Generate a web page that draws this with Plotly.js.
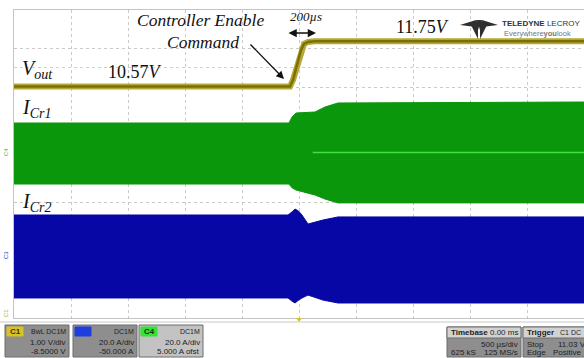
<!DOCTYPE html>
<html><head><meta charset="utf-8">
<script src="https://cdn.plot.ly/plotly-3.0.1.min.js"></script>
<style>html,body{margin:0;padding:0;background:#fff}#c{width:584px;height:358px}</style>
</head><body><div id="c"></div>
<script>
// ---- data ----
// time in ms, 500 us/div, trigger at centre
const tV   = [-2.5, -0.079, -0.053, -0.018, 0.018, 0.044, 0.079, 0.14, 2.5];
const vOut = [10.57, 10.57, 10.74, 11.13, 11.52, 11.68, 11.73, 11.75, 11.75];

const tC4    = [-2.5, -0.088, -0.061, -0.026, 0.140, 0.228, 0.342, 2.5];
const iCr1Hi = [15.3, 15.3, 18.4, 20.5, 21.0, 23.6, 25.7, 26.2];
const iCr1Lo = [-16.4, -16.4, -18.4, -19.5, -22.1, -24.2, -26.2, -26.2];
const tC4Mid = [0.12, 2.5];
const iCr1Mid = [0, 0];

const tC3    = [-2.5, -0.096, -0.06, -0.035, -0.005, 0.026, 0.079, 0.211, 0.342, 2.5];
const iCr2Hi = [21.3, 21.3, 23.0, 24.4, 23.4, 21.3, 16.6, 18.7, 20.3, 20.3];
const iCr2Lo = [-21.8, -21.8, -23.5, -24.4, -23.0, -21.8, -20.3, -22.9, -24.4, -24.4];

// ---- channel scaling (screen divisions) ----
const vCentre = 8.56, vPerDiv = 1.0;
const aPerDiv = 20.0, c4Pos = 0.30, c3Pos = -2.39;
const d1 = v => (v - vCentre) / vPerDiv;
const d4 = i => i / aPerDiv + c4Pos;
const d3 = i => i / aPerDiv + c3Pos;

// pixel helpers for decorations
const L = 14, T = 10, W = 570, H = 308;
const X = px => (px - L) / W;
const Y = py => (T + H - py) / H;

const green = '#0a970c', blue = '#0707a6';
const traces = [
  {x: tC4, y: iCr1Hi.map(d4), mode: 'lines', line: {width: 1, color: green}, hoverinfo: 'skip'},
  {x: tC4, y: iCr1Lo.map(d4), mode: 'lines', line: {width: 1, color: green}, fill: 'tonexty', fillcolor: green, hoverinfo: 'skip'},
  {x: tC4Mid, y: iCr1Mid.map(d4), mode: 'lines', line: {width: 1.5, color: '#3fe23f'}, hoverinfo: 'skip'},
  {x: tC3, y: iCr2Hi.map(d3), mode: 'lines', line: {width: 1, color: blue}, hoverinfo: 'skip'},
  {x: tC3, y: iCr2Lo.map(d3), mode: 'lines', line: {width: 1, color: blue}, fill: 'tonexty', fillcolor: blue, hoverinfo: 'skip'},
  {x: tV, y: vOut.map(d1), mode: 'lines', line: {width: 6, color: '#b3a83a'}, hoverinfo: 'skip'},
  {x: tV, y: vOut.map(d1), mode: 'lines', line: {width: 2.5, color: '#7d7000'}, hoverinfo: 'skip'}
];

const serif = 'Liberation Serif, Times New Roman, serif';
const sans = 'Liberation Sans, Arial, sans-serif';
const ann = [];
function txt(px, py, text, size, opts) {
  ann.push(Object.assign({xref: 'paper', yref: 'paper', x: X(px), y: Y(py), text: text, showarrow: false,
    xanchor: 'left', yanchor: 'middle', font: {family: sans, size: size, color: '#222'}}, opts || {}));
}
const ital = (s) => ({family: serif, size: s, color: '#111', style: 'italic'});
const rom = (s) => ({family: serif, size: s, color: '#111'});
// labels on the traces
txt(135, 20, 'Controller Enable', 17.5, {font: ital(17.5)});
txt(165, 42, 'Command', 17.5, {font: ital(17.5)});
txt(288, 17, '200µs', 13, {font: ital(13)});
txt(394, 27, '11.75<i>V</i>', 18, {font: rom(18)});
txt(106, 72, '10.57<i>V</i>', 18, {font: rom(18)});
txt(20, 70, 'V<sub>out</sub>', 20, {font: ital(20)});
txt(20, 109, 'I<sub>Cr1</sub>', 20, {font: ital(20)});
txt(20, 202, 'I<sub>Cr2</sub>', 20, {font: ital(20)});
// arrows
ann.push({xref: 'paper', yref: 'paper', x: X(284), y: Y(79), ax: -35, ay: -36, text: '', showarrow: true,
  arrowhead: 2, arrowsize: 1.2, arrowwidth: 1.3, arrowcolor: '#111'});
ann.push({xref: 'paper', yref: 'paper', x: X(316), y: Y(33), ax: -29, ay: 0, text: '', showarrow: true,
  arrowhead: 2, startarrowhead: 2, arrowside: 'end+start', arrowsize: 1.1, arrowwidth: 1.5, arrowcolor: '#111'});
// logo text
txt(500, 23, '<b>TELEDYNE</b> LECROY', 8, {font: {family: sans, size: 8, color: '#333'}});
txt(502, 33, 'Everywhere<b>you</b>look', 7.5, {font: {family: sans, size: 7.5, color: '#777'}});
// channel markers at left
txt(6, 152, 'C4', 6, {textangle: -90, xanchor: 'center', font: {family: sans, size: 6, color: '#2fc02f'}});
txt(6, 255, 'C3', 6, {textangle: -90, xanchor: 'center', font: {family: sans, size: 6, color: '#2030d0'}});
txt(6, 313, 'C1', 6, {textangle: -90, xanchor: 'center', font: {family: sans, size: 6, color: '#b8a820'}});

// bottom info boxes
const shapes = [];
function rect(x0, y0, x1, y1, fill, line) {
  shapes.push({type: 'rect', xref: 'paper', yref: 'paper', x0: X(x0), x1: X(x1), y0: Y(y1), y1: Y(y0),
    fillcolor: fill, line: {color: line || '#666', width: 1}, layer: 'above'});
}
function chBox(x0, fill, tagFill, tag, tagColor, l1, l2, l3) {
  rect(x0, 325, x0 + 64, 357, fill, '#6d6d6d');
  rect(x0 + 2, 327, x0 + 18, 336, tagFill, tagFill);
  txt(x0 + 10, 331.5, '<b>' + tag + '</b>', 8, {xanchor: 'center', font: {family: sans, size: 8, color: tagColor}});
  txt(x0 + 63, 331, l1, 7, {xanchor: 'right', font: {family: sans, size: 7, color: '#222'}});
  txt(x0 + 63, 342, l2, 8, {xanchor: 'right', font: {family: sans, size: 8, color: '#222'}});
  txt(x0 + 63, 351.5, l3, 8, {xanchor: 'right', font: {family: sans, size: 8, color: '#222'}});
}
chBox(5, '#8e8e8e', '#d8c41c', 'C1', '#333', 'BwL DC1M', '1.00 V/div', '-8.5000 V');
chBox(73, '#8e8e8e', '#1e3ee0', 'C3', '#1e3ee0', 'DC1M', '20.0 A/div', '-50.000 A');
chBox(139, '#c3c3c3', '#33e433', 'C4', '#222', 'DC1M', '20.0 A/div', '5.000 A ofst');
// timebase
rect(447, 327, 521, 357, '#8e8e8e', '#6d6d6d');
rect(447, 327, 521, 338, '#d2d2d2', '#6d6d6d');
txt(449, 332.5, '<b>Timebase</b>', 8, {font: {family: sans, size: 8, color: '#222'}});
txt(520, 332.5, '0.00 ms', 8, {xanchor: 'right', font: {family: sans, size: 8, color: '#222'}});
txt(520, 344, '500 µs/div', 8, {xanchor: 'right', font: {family: sans, size: 8, color: '#222'}});
txt(449, 352.5, '625 kS', 8, {font: {family: sans, size: 8, color: '#222'}});
txt(520, 352.5, '125 MS/s', 8, {xanchor: 'right', font: {family: sans, size: 8, color: '#222'}});
// trigger
rect(523, 327, 600, 357, '#8e8e8e', '#6d6d6d');
rect(523, 327, 600, 338, '#d2d2d2', '#6d6d6d');
txt(525, 332.5, '<b>Trigger</b>', 8, {font: {family: sans, size: 8, color: '#222'}});
txt(558, 332.5, 'C1 DC', 7, {font: {family: sans, size: 7, color: '#222'}});
txt(525, 344, 'Stop', 8, {font: {family: sans, size: 8, color: '#222'}});
txt(556, 344, '11.03 V', 8, {font: {family: sans, size: 8, color: '#222'}});
txt(525, 352.5, 'Edge', 8, {font: {family: sans, size: 8, color: '#222'}});
txt(551, 352.5, 'Positive', 8, {font: {family: sans, size: 8, color: '#222'}});

// logo glyph
function path(pts, fill) {
  const d = pts.map((p, k) => (k ? 'L' : 'M') + X(p[0]) + ',' + Y(p[1])).join(' ') + ' Z';
  shapes.push({type: 'path', xref: 'paper', yref: 'paper', path: d, fillcolor: fill, line: {width: 0}});
}
path([[460, 25], [476, 20], [476, 27]], '#2f2f2f');
path([[498, 25], [482, 20], [482, 27]], '#2f2f2f');
path([[470, 23], [478, 21], [478, 39]], '#2f2f2f');
path([[488, 23], [480, 21], [480, 39]], '#2f2f2f');
path([[476, 20], [482, 20], [479, 30]], '#2f2f2f');
// faint half-division dotted row and trigger marker
shapes.push({type: 'line', xref: 'paper', yref: 'paper', x0: 0, x1: 1, y0: Y(67.5), y1: Y(67.5),
  line: {color: '#d0d0d0', width: 1, dash: 'dot'}, layer: 'below'});
shapes.push({type: 'path', xref: 'paper', yref: 'paper', path: 'M' + X(296) + ',' + Y(318) + ' L' + X(302) + ',' + Y(318) + ' L' + X(299) + ',' + Y(322) + ' Z',
  fillcolor: '#d8c41c', line: {width: 0}});
shapes.push({type: 'line', xref: 'paper', yref: 'paper', x0: X(0), x1: X(584), y0: Y(322), y1: Y(322),
  line: {color: '#c8c8c8', width: 1}});

const layout = {
  width: 584, height: 358,
  margin: {l: L, r: 0, t: T, b: 40, pad: 0},
  paper_bgcolor: '#fff', plot_bgcolor: '#fff',
  showlegend: false,
  xaxis: {range: [-2.5, 2.5], dtick: 0.5, tick0: -2.5, showticklabels: false, ticks: '', zeroline: false,
    showgrid: true, gridcolor: '#c9c9c9', griddash: 'dot', gridwidth: 1,
    showline: true, mirror: true, linecolor: '#c4c4c4', linewidth: 1, fixedrange: true},
  yaxis: {range: [-4, 4], dtick: 1, tick0: -4, showticklabels: false, ticks: '', zeroline: false,
    showgrid: true, gridcolor: '#c9c9c9', griddash: 'dot', gridwidth: 1,
    showline: true, mirror: true, linecolor: '#c4c4c4', linewidth: 1, fixedrange: true},
  annotations: ann, shapes: shapes
};
Plotly.newPlot('c', traces, layout, {staticPlot: true, displayModeBar: false});
</script></body></html>
